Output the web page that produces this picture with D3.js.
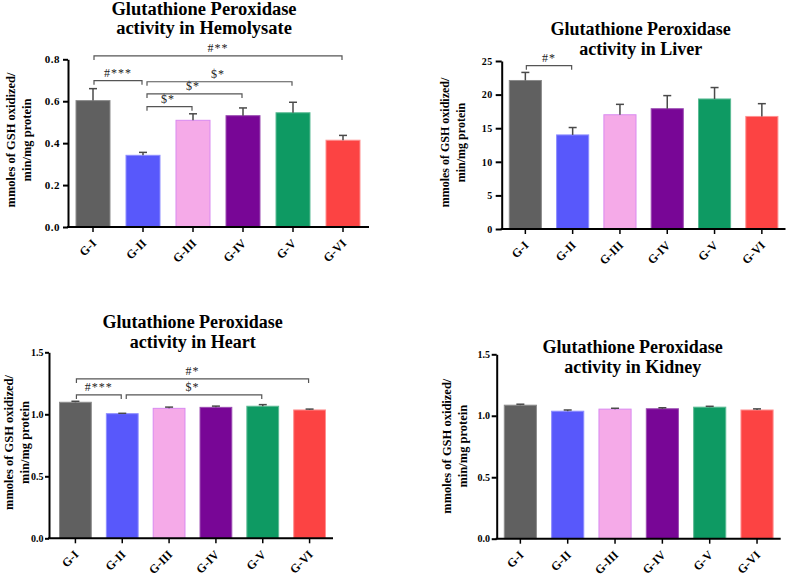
<!DOCTYPE html>
<html>
<head>
<meta charset="utf-8">
<script src="https://cdn.jsdelivr.net/npm/d3@7"></script>
<style>
  body { margin: 0; background: #fff; }
  svg { display: block; }
</style>
</head>
<body>
<script>
// groups and colours
var groups = ["G-I", "G-II", "G-III", "G-IV", "G-V", "G-VI"];
var fills = ["#606060", "#5858fb", "#f5aae8", "#780696", "#0e9a63", "#fc4343"];
var strokes = ["#8c8c8c", "#8d8dff", "#d98af0", "#9b4cb2", "#5cbb95", "#ff9090"];

// mean values
var hemoMean = [0.603, 0.342, 0.509, 0.531, 0.545, 0.414];
var hemoErr = [0.057, 0.014, 0.031, 0.037, 0.05, 0.023];
var liverMean = [22.1, 14.0, 17.0, 17.9, 19.35, 16.75];
var liverErr = [1.2, 1.1, 1.55, 1.95, 1.7, 1.9];
var heartMean = [1.097, 1.005, 1.048, 1.056, 1.065, 1.035];
var heartErr = [0.008, 0.003, 0.01, 0.01, 0.013, 0.007];
var kidneyMean = [1.086, 1.037, 1.054, 1.057, 1.07, 1.047];
var kidneyErr = [0.008, 0.01, 0.007, 0.008, 0.007, 0.009];

// y ticks
var hemoTicks = [0, 0.2, 0.4, 0.6, 0.8];
var liverTicks = [0, 5, 10, 15, 20, 25];
var organTicks = [0, 0.5, 1.0, 1.5];

// significance brackets: from, to, level (data units), label
var hemoSig = [
  ["G-I", "G-VI", 0.816, "#**"],
  ["G-I", "G-II", 0.698, "#***"],
  ["G-II", "G-V", 0.693, "$*"],
  ["G-II", "G-IV", 0.635, "$*"],
  ["G-II", "G-III", 0.574, "$*"]
];
var liverSig = [["G-I", "G-II", 24.3, "#*"]];
var heartSig = [
  ["G-I", "G-VI", 1.285, "#*"],
  ["G-I", "G-II", 1.156, "#***"],
  ["G-II", "G-V", 1.156, "$*"]
];

var svg = d3.select("body").append("svg")
    .attr("width", 787)
    .attr("height", 581);

var serif = "'Liberation Serif', 'Times New Roman', serif";

function drawPanel(p) {
    var g = svg.append("g");

    var x = d3.scaleBand()
        .domain(groups)
        .range([p.x0 + p.shift, p.x1])
        .paddingInner(0.3)
        .paddingOuter(0.15);

    var y = d3.scaleLinear()
        .domain([0, p.max])
        .range([p.y0, p.yTop]);

    // bars
    g.append("g").selectAll("rect")
        .data(p.mean)
        .enter()
        .append("rect")
        .attr("x", function (d, i) { return x(groups[i]) + 0.5; })
        .attr("y", function (d) { return y(d); })
        .attr("width", x.bandwidth() - 1)
        .attr("height", function (d) { return y(0) - y(d); })
        .attr("fill", function (d, i) { return fills[i]; })
        .attr("stroke", function (d, i) { return strokes[i]; })
        .attr("stroke-width", 1);

    // error bars (upper only)
    var eb = g.append("g").selectAll("g")
        .data(p.mean)
        .enter()
        .append("g")
        .attr("stroke", "#4a4a4a")
        .attr("stroke-width", 1.5);
    eb.append("line")
        .attr("x1", function (d, i) { return x(groups[i]) + x.bandwidth() / 2; })
        .attr("x2", function (d, i) { return x(groups[i]) + x.bandwidth() / 2; })
        .attr("y1", function (d) { return y(d); })
        .attr("y2", function (d, i) { return y(d + p.err[i]); });
    eb.append("line")
        .attr("x1", function (d, i) { return x(groups[i]) + x.bandwidth() / 2 - 4; })
        .attr("x2", function (d, i) { return x(groups[i]) + x.bandwidth() / 2 + 4; })
        .attr("y1", function (d, i) { return y(d + p.err[i]); })
        .attr("y2", function (d, i) { return y(d + p.err[i]); });

    // y axis
    var ya = g.append("g")
        .attr("transform", "translate(" + p.x0 + ",0)")
        .call(d3.axisLeft(y).tickValues(p.ticks).tickFormat(d3.format(p.fmt))
            .tickSize(p.tick).tickPadding(p.pad).tickSizeOuter(0));
    ya.select(".domain").attr("stroke-width", 2);
    ya.selectAll(".tick line").attr("stroke-width", 2);
    ya.selectAll("text")
        .style("font-family", serif)
        .style("font-weight", "bold")
        .style("font-size", p.tickFont + "px")
        .style("letter-spacing", p.spacing + "px");

    // x axis
    var xa = g.append("g")
        .attr("transform", "translate(0," + p.y0 + ")")
        .call(d3.axisBottom(x).tickSize(5).tickSizeOuter(0));
    xa.select(".domain").remove();
    xa.append("line")
        .attr("x1", p.x0 - 1)
        .attr("x2", p.xEnd)
        .attr("stroke", "#000")
        .attr("stroke-width", 2);
    xa.selectAll(".tick line").attr("stroke-width", 1.5);
    xa.selectAll("text")
        .attr("y", 0)
        .attr("dy", 0)
        .attr("transform", "translate(4,17) rotate(-45)")
        .style("text-anchor", "end")
        .style("font-family", serif)
        .style("font-weight", "bold")
        .style("font-size", "12px");

    // brackets
    var cx = function (k) { return x(k) + x.bandwidth() / 2; };
    var br = g.append("g").selectAll("g")
        .data(p.sig)
        .enter()
        .append("g");
    br.append("path")
        .attr("fill", "none")
        .attr("stroke", "#555")
        .attr("stroke-width", 1.2)
        .attr("d", function (d) {
            var a = cx(d[0]) + (d[0] === "G-II" ? 4 : 1);
            var b = cx(d[1]) - 1;
            var yy = y(d[2]);
            return "M" + a + "," + (yy + 4) + "V" + yy + "H" + b + "V" + (yy + 4);
        });
    br.append("text")
        .attr("x", function (d) { return (cx(d[0]) + cx(d[1])) / 2; })
        .attr("y", function (d) { return y(d[2]) - 4; })
        .attr("text-anchor", "middle")
        .style("font-family", serif)
        .style("font-size", "12px")
        .style("letter-spacing", "1px")
        .attr("fill", "#222")
        .text(function (d) { return d[3]; });

    // title
    var t = g.append("text")
        .attr("text-anchor", "middle")
        .style("font-family", serif)
        .style("font-weight", "bold")
        .style("font-size", p.titleFont + "px");
    t.append("tspan").attr("x", p.tx).attr("y", p.ty).text("Glutathione Peroxidase");
    t.append("tspan").attr("x", p.tx).attr("y", p.ty + p.titleGap).text(p.title);

    // y label
    var l = g.append("text")
        .attr("transform", "rotate(-90)")
        .attr("text-anchor", "middle")
        .style("font-family", serif)
        .style("font-weight", "bold")
        .style("font-size", p.labFont + "px");
    l.append("tspan").attr("x", -p.ly).attr("y", p.lx).text("mmoles of GSH oxidized/");
    l.append("tspan").attr("x", -p.ly).attr("y", p.lx + 16).text("min/mg protein");
}

drawPanel({
    mean: hemoMean, err: hemoErr, ticks: hemoTicks, fmt: ".1f", sig: hemoSig, max: 0.8,
    x0: 68, shift: 0, x1: 368, xEnd: 369, y0: 227, yTop: 59.3,
    tickFont: 11, spacing: 0.5, tick: 5, pad: 3,
    title: "activity in Hemolysate", tx: 204, ty: 14.5, titleFont: 18.5, titleGap: 19.5,
    lx: 14.5, ly: 140, labFont: 12.5
});

drawPanel({
    mean: liverMean, err: liverErr, ticks: liverTicks, fmt: "d", sig: liverSig, max: 25,
    x0: 501.7, shift: 0, x1: 785.5, xEnd: 785.5, y0: 229, yTop: 61,
    tickFont: 10, spacing: 0.5, tick: 6, pad: 3,
    title: "activity in Liver", tx: 640.7, ty: 34.5, titleFont: 18, titleGap: 20,
    lx: 449.3, ly: 142.5, labFont: 12
});

drawPanel({
    mean: heartMean, err: heartErr, ticks: organTicks, fmt: ".1f", sig: heartSig, max: 1.5,
    x0: 49, shift: 3, x1: 333, xEnd: 333, y0: 538.3, yTop: 352.3,
    tickFont: 10, spacing: 0, tick: 4, pad: 1.5,
    title: "activity in Heart", tx: 192.7, ty: 327.5, titleFont: 18, titleGap: 20,
    lx: 13.3, ly: 442.5, labFont: 12.5
});

drawPanel({
    mean: kidneyMean, err: kidneyErr, ticks: organTicks, fmt: ".1f", sig: [], max: 1.5,
    x0: 496.7, shift: 0, x1: 780.7, xEnd: 780.7, y0: 538.7, yTop: 354.3,
    tickFont: 10, spacing: 0, tick: 5, pad: 1.7,
    title: "activity in Kidney", tx: 632.7, ty: 353.3, titleFont: 18, titleGap: 20,
    lx: 451, ly: 446.2, labFont: 12.5
});
</script>
</body>
</html>
